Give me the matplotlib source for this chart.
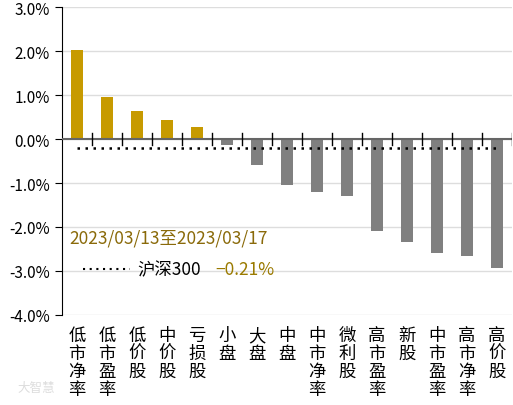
import matplotlib
matplotlib.use("Agg")
import matplotlib.pyplot as plt
import numpy as np

plt.rcParams['font.family'] = ['Noto Sans CJK SC', 'DejaVu Sans']

categories = ['低市净率', '低市盈率', '低价股', '中价股', '亏损股', '小盘', '大盘', '中盘',
              '中市净率', '微利股', '高市盈率', '新股', '中市盈率', '高市净率', '高价股']
returns = [2.02, 0.95, 0.63, 0.43, 0.27, -0.14, -0.59, -1.04,
           -1.20, -1.30, -2.10, -2.33, -2.60, -2.65, -2.93]
hs300 = -0.21
yticks = [3, 2, 1, 0, -1, -2, -3, -4]
ytick_labels = ['3.0%', '2.0%', '1.0%', '0.0%', '-1.0%', '-2.0%', '-3.0%', '-4.0%']
period = '2023/03/13至2023/03/17'

gold = '#C79A00'
gray = '#808080'

fig = plt.figure(figsize=(5.13, 4.06), dpi=100)
ax = fig.add_axes([62 / 513, 1 - 316 / 406, 450 / 513, 308 / 406])

x = np.arange(len(categories))
colors = [gold if v > 0 else gray for v in returns]
ax.bar(x, returns, width=0.43, color=colors, zorder=3)

ax.set_xlim(-0.5, len(categories) - 0.5)
ax.set_ylim(-4, 3)
ax.set_yticks(yticks)
ax.set_yticklabels(ytick_labels, fontsize=11)
ax.yaxis.grid(True, color='#DDDDDD', linewidth=1, zorder=0)
ax.set_axisbelow(True)

for s in ['top', 'right', 'bottom']:
    ax.spines[s].set_visible(False)
ax.spines['left'].set_color('black')
ax.tick_params(axis='y', length=5, color='black', pad=4)

# zero line with category separators
ax.axhline(0, color='#666666', linewidth=1.5, zorder=4)
for b in np.arange(0.5, len(categories), 1.0):
    ax.plot([b, b], [-0.13, 0.13], color='black', linewidth=1, zorder=5)

ax.plot([x[0], x[-1]], [hs300, hs300], color='black', linestyle=(0, (1, 2.2)),
        linewidth=1.8, zorder=6)

ax.set_xticks(x)
ax.set_xticklabels(['\n'.join(c) for c in categories], fontsize=12.5, linespacing=1.0,
                   va='top')
ax.tick_params(axis='x', length=0, pad=8)

# legend text
ax.text(-0.25, -2.23, period, color='#8A6A0A', fontsize=12.5, va='center', ha='left')
ax.plot([0.2, 1.75], [-2.95, -2.95], color='black', linestyle=(0, (1, 2.2)),
        linewidth=1.5)
ax.text(2.0, -2.95, '沪深300', color='black', fontsize=12.5, va='center', ha='left')
ax.text(4.6, -2.95, '{:.2f}%'.format(hs300).replace('-', '−'), color='#9A7A00',
        fontsize=12.5, va='center', ha='left')

fig.text(0.035, 0.035, '大智慧', color='#DDDDDD', fontsize=9)

fig.savefig('out.png', dpi=100)
